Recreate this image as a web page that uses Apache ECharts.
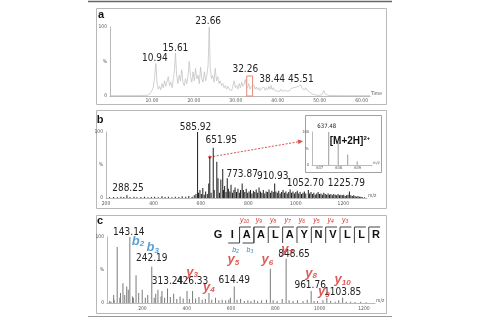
<!DOCTYPE html>
<html><head><meta charset="utf-8">
<script src="https://cdn.jsdelivr.net/npm/echarts@6/dist/echarts.min.js"></script>
<style>html,body{margin:0;padding:0;background:#fff}#c{width:479px;height:320px}</style>
</head><body><div id="c"></div>
<script>
// ---------- DATA ----------
// (a) total ion chromatogram: time (min) and relative intensity (%)
const chromTime = [0,2,4,6,8,9,9.5,10,10.3,10.6,10.94,11.2,11.5,11.8,12.1,12.4,12.7,13,13.3,13.6,13.9,14.2,14.5,14.8,15.1,15.35,15.61,15.9,16.2,16.5,16.8,17.1,17.4,17.7,18,18.3,18.6,18.9,19.2,19.5,19.8,20.1,20.4,20.7,21,21.3,21.6,21.9,22.2,22.5,22.8,23.1,23.4,23.66,23.9,24.2,24.5,24.8,25.1,25.4,25.7,26,26.3,26.6,26.9,27.2,27.5,27.8,28.1,28.4,28.7,29,29.3,29.6,29.9,30.2,30.5,30.8,31.1,31.4,31.7,32,32.26,32.5,32.8,33.1,33.4,33.7,34,34.3,34.6,34.9,35.2,35.5,35.8,36.1,36.4,36.7,37,37.3,37.6,37.9,38.2,38.44,38.7,39,39.3,39.6,39.9,40.2,40.5,40.8,41.1,41.4,41.7,42,42.3,42.6,42.9,43.2,43.5,43.8,44.1,44.4,44.7,45,45.3,45.51,45.8,46.1,46.4,46.7,47,47.3,47.6,47.9,48.2,48.5,49,49.5,50,50.5,51,51.3,51.6,52,54,56,58,60,62];
const chromInt  = [0.5,0.5,0.6,0.5,0.8,1,3,8,12,25,47,20,10,14,9,18,12,22,14,16,28,15,20,12,25,35,62,30,18,30,22,38,20,15,25,18,30,50,28,20,35,22,40,25,30,18,42,25,20,35,22,30,45,100,40,25,30,20,40,22,28,18,22,15,18,12,15,10,14,10,12,8,14,22,12,15,10,18,12,20,14,18,24,15,12,18,10,14,12,16,10,13,9,12,8,11,9,13,8,12,9,14,10,15,9,12,8,10,7,9,7,10,7,9,8,10,7,9,8,11,9,12,10,13,11,14,12,16,11,13,9,12,8,10,6,5,3,2,1.5,1,1,2,8,3,1,0.8,0.6,0.5,0.5,0.5,0.5];
const chromPeakLabels = [10.94, 15.61, 23.66, 32.26, 38.44, 45.51];
const chromTicks = [10, 20, 30, 40, 50, 60];
const boxedTime = [32.6, 34.0];

// (b) full MS spectrum: m/z and relative intensity (%)
const msMz  = [215,232,248,263,275,288.25,301,318,330,347,362,377,391,405,420,436,449,463,478,492,507,521,536,549,563,572,579,585.92,590,596,602,608,614,620,627,633,637.48,643,651.95,656,667,672,678,684,692,695,700,706,711,716,722,727,733,739,744,750,756,762,767,773.87,779,785,791,797,803,809,815,821,827,833,839,845,851,857,863,869,875,881,887,893,899,905,910.93,916,922,928,934,940,946,952,958,964,970,976,982,988,994,1000,1006,1012,1018,1024,1030,1036,1042,1052.70,1058,1064,1070,1076,1082,1088,1094,1100,1106,1112,1118,1124,1130,1136,1142,1148,1154,1160,1166,1172,1178,1184,1190,1196,1202,1208,1214,1220,1225.79,1232,1238,1244,1250,1256,1262,1268,1274,1280,1290];
const msInt = [1,1.5,1,2,1.5,4,1.5,2,1,1.5,2,1,1.5,2,1,2.5,1.5,2,1,2,1.5,2.5,2,3,2,4,6,100,8,12,6,15,5,10,6,22,62,8,76,12,55,30,8,28,44,12,18,9,30,14,10,20,8,12,16,9,14,8,12,22,12,9,14,8,10,12,7,11,9,13,8,16,10,8,12,7,10,9,13,8,11,9,22,10,8,11,7,9,12,8,10,7,9,13,8,10,7,9,11,7,9,6,8,10,7,12,7,9,6,8,5,7,9,6,7,5,8,6,5,7,5,6,4,6,5,4,6,4,5,4,5,3,4,5,10,4,3,4,3,2,3,2,2,1.5,1];
const msPeakLabels = [288.25, 585.92, 651.95, 773.87, 910.93, 1052.70, 1225.79];
const msTicks = [200, 400, 600, 800, 1000, 1200];

// (b, inset) isotope cluster of the doubly charged precursor
const isoMz  = [637.48, 637.98, 638.48, 638.98];
const isoInt = [100, 68, 32, 11];
const isoTicks = [637, 638, 639];
const precursorMz = 637.48;

// (c) MS/MS spectrum: m/z and relative intensity (%)
const msmsMz  = [52,58,70,72,86,98,101,112,120,129,136,143.14,155,159,171.11,183,199,213,224,242.19,253,260,270,284,288.2,300,313.24,326,341,355,370,384,401.29,412,426.33,440,455,470,484,500.36,513,530,545,560,576,590,597,614.49,627,643,660,676,690,705,720,738,760,777.47,790,808,831,848.65,862,880,900,925,944,961.76,975,990,1015,1032.62,1050,1070,1086,1103.85,1120,1140,1160,1185,1210];
const msmsInt = [3,2,12,5,85,8,15,30,12,25,20,100,10,8,42,15,20,8,12,55,8,14,20,10,18,8,22,9,14,6,10,7,18,6,18,7,9,5,6,15,5,8,4,5,4,5,8,25,5,6,3,4,3,5,3,4,5,52,4,3,6,67,4,3,4,3,5,18,3,3,4,8,3,2,4,8,2,2,1.5,2,1];
const msmsPeakLabels = [143.14, 242.19, 313.24, 426.33, 614.49, 848.65, 961.76, 1103.85];
const msmsTicks = [200, 400, 600, 800, 1000, 1200];
const ionNames = ['b2','b3','y3','y4','y5','y6','y7','y8','y9','y10'];
const ionMz    = [171.11, 242.19, 401.29, 500.36, 614.49, 777.47, 848.65, 961.76, 1032.62, 1103.85];
const sequence = ['G','I','A','A','L','A','Y','N','V','L','L','R'];

// ---------- STYLE / LAYOUT ----------
const FONT = "'Liberation Sans Narrow','DejaVu Sans Condensed','Liberation Sans',sans-serif";
const RED = '#d2322d', BLUE = '#2f8ac4';
// label offsets (px) from the labelled peak top
const chromLabelOff = [[-1,-5],[0,-5],[-1,-6],[0,-10],[1,-6],[0,-6]];
const msLabelOff = [[1,-7],[-2,-5],[8,-7],[0,-9],[-2,-7],[-3,-7],[-3,-8]];
const msmsLabelOff = [[-1,-5],[0,-8],[0,-7],[0,-10],[0,-6],[8,-4],[-1,-6],[0,-5]];
const ionLabelOff = [[2,-34],[1,-19],[5,-19],[0,-6],[-1,-27],[-3,-9],[1,-9],[0,-18],[-3,-6],[0,-18]];

function lookup(xs, ys, x){ return ys[xs.indexOf(x)]; }

const chart = echarts.init(document.getElementById('c'), null, {renderer:'canvas'});

const axisLineStyle = {show:true, lineStyle:{color:'#a8a8a8', width:0.8}};
function yAxisFor(gi, fs){
  return {type:'value', gridIndex:gi, min:0, max:100, interval:50,
    axisLine:axisLineStyle, axisTick:{show:false}, splitLine:{show:false},
    axisLabel:{fontSize:fs||5, color:'#555', margin:3, fontFamily:FONT,
      formatter:v=> v===50?'%':String(v)}};
}
function xAxisFor(gi, min, max, ticks, fmt, name, fs, margin){
  return {type:'value', gridIndex:gi, min:min, max:max,
    axisLine:axisLineStyle, axisTick:{show:false}, splitLine:{show:false},
    axisLabel:{fontSize:fs||5, color:'#555', margin:margin||3, fontFamily:FONT,
      customValues:ticks, formatter:fmt},
    name:name, nameLocation:'end', nameGap:1,
    nameTextStyle:{fontSize:fs||5, color:'#555', fontFamily:FONT, verticalAlign:'bottom', padding:[0,0,0,0]}};
}
function peakMarks(xs, ys, labels, offs, fmt, fs){
  return {symbol:'circle', symbolSize:0, silent:true,
    label:{show:true, position:'inside', color:'#222', fontSize:fs||10, fontFamily:FONT},
    data: labels.map((m,i)=>({coord:[m, lookup(xs,ys,m)],
      label:{formatter: fmt?fmt(m):String(m.toFixed(2)), offset:offs[i]}}))};
}

const ionRich = {
  yb:{fontSize:13, fontWeight:'bold', fontStyle:'italic', color:RED, fontFamily:"'Liberation Sans',sans-serif"},
  ys:{fontSize:8, fontWeight:'bold', fontStyle:'italic', color:RED, fontFamily:"'Liberation Sans',sans-serif", padding:[6,0,0,0]},
  bb:{fontSize:13, fontWeight:'bold', fontStyle:'italic', color:BLUE, fontFamily:"'Liberation Sans',sans-serif"},
  bs:{fontSize:8, fontWeight:'bold', fontStyle:'italic', color:BLUE, fontFamily:"'Liberation Sans',sans-serif", padding:[6,0,0,0]}
};
function ionText(n){
  const t = n[0]==='b' ? 'b' : 'y';
  return '{'+t+'b|'+n[0]+'}{'+t+'s|'+n.slice(1)+'}';
}

const option = {
  animation:false,
  backgroundColor:'#fff',
  grid:[
    {left:110, top:27, width:260, height:69},
    {left:106, top:132, width:261, height:66},
    {left:312, top:132, width:60, height:33},
    {left:107, top:237, width:268, height:66}
  ],
  xAxis:[
    xAxisFor(0, 0, 62, chromTicks, v=>v.toFixed(2), 'Time', 5, 2),
    xAxisFor(1, 200, 1300, msTicks, v=>String(v), 'm/z', 5, 3),
    xAxisFor(2, 636.6, 639.76, isoTicks, v=>String(v), 'm/z', 4, 1),
    xAxisFor(3, 40, 1250, msmsTicks, v=>String(v), 'm/z', 5, 3)
  ],
  yAxis:[yAxisFor(0,5), yAxisFor(1,5), yAxisFor(2,4), yAxisFor(3,5)],
  series:[
    {type:'line', xAxisIndex:0, yAxisIndex:0, showSymbol:false, symbol:'none',
      data: chromTime.map((t,i)=>[t, chromInt[i]]),
      lineStyle:{color:'#bdbdbd', width:0.7},
      markPoint: peakMarks(chromTime, chromInt, chromPeakLabels, chromLabelOff),
      markArea:{silent:true, itemStyle:{color:'rgba(0,0,0,0)', borderColor:'#e58a74', borderWidth:1},
        data:[[{coord:[boxedTime[0],0]},{coord:[boxedTime[1],29]}]]}
    },
    {type:'bar', xAxisIndex:1, yAxisIndex:1, barWidth:1,
      data: msMz.map((m,i)=>[m, msInt[i]]), itemStyle:{color:'#1e1e1e'},
      markPoint: peakMarks(msMz, msInt, msPeakLabels, msLabelOff)
    },
    {type:'bar', xAxisIndex:2, yAxisIndex:2, barWidth:1,
      data: isoMz.map((m,i)=>[m, isoInt[i]]), itemStyle:{color:'#9a9a9a'},
      markPoint: peakMarks(isoMz, isoInt, [isoMz[0]], [[-2,-6]], null, 6)
    },
    {type:'bar', xAxisIndex:3, yAxisIndex:3, barWidth:1,
      data: msmsMz.map((m,i)=>[m, msmsInt[i]]), itemStyle:{color:'#7a7a7a'},
      markPoint: peakMarks(msmsMz, msmsInt, msmsPeakLabels, msmsLabelOff)
    },
    {type:'scatter', xAxisIndex:3, yAxisIndex:3, symbolSize:0, silent:true,
      data: ionMz.map((m,i)=>({value:[m, lookup(msmsMz, msmsInt, m)],
        label:{show:true, position:'inside', offset:ionLabelOff[i], formatter:ionText(ionNames[i]), rich:ionRich}})),
      z:5
    }
  ]
};
chart.setOption(option);

// ---------- decorations ----------
const g = [];
// figure top / bottom rules
g.push({type:'line', shape:{x1:88,y1:1.5,x2:392,y2:1.5}, style:{stroke:'#666', lineWidth:1.5}});
g.push({type:'line', shape:{x1:88,y1:316.5,x2:392,y2:316.5}, style:{stroke:'#999', lineWidth:1}});
// panel frames
[[96,8,290,96],[96,110,290,98],[96,215,290,98]].forEach(r=>{
  g.push({type:'rect', shape:{x:r[0]+0.5,y:r[1]+0.5,width:r[2],height:r[3]}, style:{fill:null, stroke:'#b8b8b8', lineWidth:1}});
});
// inset frame
g.push({type:'rect', shape:{x:305.5,y:115.5,width:76,height:57}, style:{fill:null, stroke:'#a0a0a0', lineWidth:1}});
// panel letters
[['a',101,15],['b',100,120],['c',100,221]].forEach(p=>{
  g.push({type:'text', style:{text:p[0], x:p[1], y:p[2], fill:'#111', fontSize:11, fontWeight:'bold', fontFamily:"'Liberation Sans',sans-serif", align:'center', verticalAlign:'middle'}});
});
// precursor annotation
g.push({type:'text', style:{text:'{a|[M+2H]}{s|2+}', x:350, y:141, align:'center', verticalAlign:'middle',
  rich:{a:{fontSize:10, fontWeight:'bold', fill:'#111', fontFamily:"'Liberation Sans',sans-serif"},
        s:{fontSize:6, fontWeight:'bold', fill:'#111', fontFamily:"'Liberation Sans',sans-serif", padding:[0,0,6,0]}}}});
// dashed arrow from precursor peak to inset
const p0 = chart.convertToPixel({gridIndex:1}, [precursorMz, lookup(msMz, msInt, precursorMz)]);
const p1 = [303, 141];
const ang = Math.atan2(p1[1]-p0[1], p1[0]-p0[0]);
g.push({type:'line', shape:{x1:p0[0],y1:p0[1],x2:p1[0]-4*Math.cos(ang),y2:p1[1]-4*Math.sin(ang)}, style:{stroke:'#d9534f', lineWidth:1, lineDash:[2,1.5]}});
g.push({type:'polygon', shape:{points:[
  [p1[0],p1[1]],
  [p1[0]-5*Math.cos(ang)+2.5*Math.sin(ang), p1[1]-5*Math.sin(ang)-2.5*Math.cos(ang)],
  [p1[0]-5*Math.cos(ang)-2.5*Math.sin(ang), p1[1]-5*Math.sin(ang)+2.5*Math.cos(ang)]]}, style:{fill:'#d9534f'}});
g.push({type:'circle', shape:{cx:p0[0], cy:p0[1], r:1.6}, style:{fill:'#d9534f'}});

// peptide sequence with fragment brackets
const sx0 = 218, sdx = 14.36, sy = 235;
sequence.forEach((aa,i)=>{
  g.push({type:'text', style:{text:aa, x:sx0+i*sdx, y:sy, fill:'#111', fontSize:11, fontWeight:'bold', fontFamily:"'Liberation Sans',sans-serif", align:'center', verticalAlign:'middle'}});
});
const yIonNums = [10,9,8,7,6,5,4,3,2,1];
yIonNums.forEach(n=>{
  const gap = sequence.length - n; // cleavage after letter index gap (1-based)
  const gx = sx0 + (gap-0.5)*sdx;
  g.push({type:'polyline', shape:{points:[[gx,243],[gx,227],[gx+sdx-3,227]]}, style:{stroke:'#444', lineWidth:1, fill:null}});
  if(n>=3){
    g.push({type:'text', style:{text:'{a|y}{s|'+n+'}', x:gx+5, y:220, align:'center', verticalAlign:'middle',
      rich:{a:{fontSize:7, fontStyle:'italic', fill:RED, fontFamily:"'Liberation Sans',sans-serif"}, s:{fontSize:5, fontStyle:'italic', fill:RED, fontFamily:"'Liberation Sans',sans-serif", padding:[3,0,0,0]}}}});
  }
});
[2,3].forEach(n=>{
  const gx = sx0 + (n-0.5)*sdx;
  g.push({type:'polyline', shape:{points:[[gx-sdx+3,243],[gx,243],[gx,227]]}, style:{stroke:'#444', lineWidth:1, fill:null}});
  g.push({type:'text', style:{text:'{a|b}{s|'+n+'}', x:gx-4, y:250, align:'center', verticalAlign:'middle',
    rich:{a:{fontSize:7, fontStyle:'italic', fill:BLUE, fontFamily:"'Liberation Sans',sans-serif"}, s:{fontSize:5, fontStyle:'italic', fill:BLUE, fontFamily:"'Liberation Sans',sans-serif", padding:[3,0,0,0]}}}});
});
chart.setOption({graphic:{elements:g}});
</script></body></html>
